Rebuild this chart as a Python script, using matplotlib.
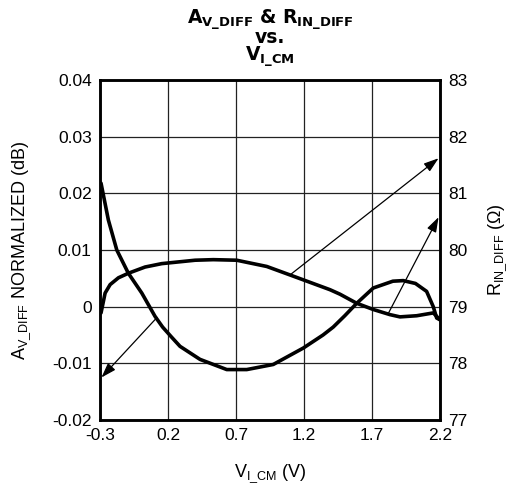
import numpy as np
from matplotlib import pyplot as plt

plt.rcParams['font.family'] = ['Liberation Sans', 'DejaVu Sans']
plt.rcParams['mathtext.fontset'] = 'custom'
plt.rcParams['mathtext.rm'] = 'Liberation Sans'
plt.rcParams['mathtext.it'] = 'Liberation Sans:italic'
plt.rcParams['mathtext.bf'] = 'DejaVu Sans:bold'
plt.rcParams['axes.unicode_minus'] = False

# ---- Data ----
# A_V_DIFF normalized (dB), left axis
v_av = [-0.293, -0.239, -0.177, -0.092, 0.007, 0.104, 0.160, 0.227, 0.288, 0.435,
        0.632, 0.779, 0.974, 1.195, 1.340, 1.415, 1.500, 1.588, 1.710, 1.854,
        1.930, 2.020, 2.102, 2.151, 2.176, 2.200]
av = [0.0218, 0.0153, 0.0100, 0.0059, 0.0024, -0.0017, -0.0036, -0.0054, -0.0070, -0.0093,
      -0.0111, -0.0111, -0.0102, -0.0073, -0.0050, -0.0036, -0.0016, 0.0006, 0.0033, 0.0045,
      0.0046, 0.0041, 0.0027, 0.0000, -0.0020, -0.0023]

# R_IN_DIFF (Ohm), right axis
v_r = [-0.293, -0.263, -0.226, -0.165, -0.092, 0.031, 0.154, 0.399, 0.533, 0.705,
       0.926, 1.097, 1.391, 1.465, 1.588, 1.710, 1.832, 1.906, 2.029, 2.151,
       2.188, 2.200]
r_in = [78.89, 79.24, 79.39, 79.51, 79.59, 79.70, 79.76, 79.82, 79.83, 79.82,
        79.71, 79.56, 79.30, 79.22, 79.06, 78.95, 78.86, 78.82, 78.84, 78.89,
        78.80, 78.77]

x_ticks = [-0.3, 0.2, 0.7, 1.2, 1.7, 2.2]
y_ticks = [-0.02, -0.01, 0, 0.01, 0.02, 0.03, 0.04]
y_labels = ['-0.02', '-0.01', '0', '0.01', '0.02', '0.03', '0.04']
r_ticks = [77, 78, 79, 80, 81, 82, 83]

# ---- Figure ----
fig = plt.figure(figsize=(5.08, 4.87), dpi=100)
ax = fig.add_axes([0.197, 0.1376, 0.669, 0.698])
ax2 = ax.twinx()

ax.plot(v_av, av, color='k', lw=2.6, solid_capstyle='round', solid_joinstyle='round')
ax2.plot(v_r, r_in, color='k', lw=2.6, solid_capstyle='round', solid_joinstyle='round')

ax.set_xlim(-0.3, 2.2)
ax.set_ylim(-0.02, 0.04)
ax2.set_ylim(77, 83)
ax.set_xticks(x_ticks)
ax.set_xticklabels([f'{t:.1f}' for t in x_ticks])
ax.set_yticks(y_ticks)
ax.set_yticklabels(y_labels)
ax2.set_yticks(r_ticks)
ax.grid(True, color='#222222', lw=0.9)
ax.set_axisbelow(True)

for a in (ax, ax2):
    a.tick_params(length=0, labelsize=12.5, pad=6)
    for s in a.spines.values():
        s.set_linewidth(1.8)

# ---- Arrows ----
arr = dict(arrowstyle='-|>,head_length=0.9,head_width=0.3', color='k', lw=0.9,
           shrinkA=0, shrinkB=0)
ax.annotate('', xy=(-0.29, -0.0125), xytext=(0.119, -0.0019), arrowprops=arr)
ax2.annotate('', xy=(2.19, 81.62), xytext=(1.097, 79.56), arrowprops=arr)
ax2.annotate('', xy=(2.19, 80.58), xytext=(1.818, 78.87), arrowprops=arr)

# ---- Labels ----
ax.set_xlabel(r'V$_{\mathregular{I\_CM}}$ (V)', fontsize=13, labelpad=14)
ax.set_ylabel(r'A$_{\mathregular{V\_DIFF}}$ NORMALIZED (dB)', fontsize=13, labelpad=14)
ax2.set_ylabel(r'R$_{\mathregular{IN\_DIFF}}$ ($\Omega$)', fontsize=13, labelpad=14)
ax.set_title(r'$\mathbf{A_{V\_DIFF}}$ & $\mathbf{R_{IN\_DIFF}}$' + '\nvs.\n'
             + r'$\mathbf{V_{I\_CM}}$',
             fontsize=13.5, fontweight='bold', family='DejaVu Sans',
             linespacing=0.8, pad=15)

fig.savefig('out.png', dpi=100)
